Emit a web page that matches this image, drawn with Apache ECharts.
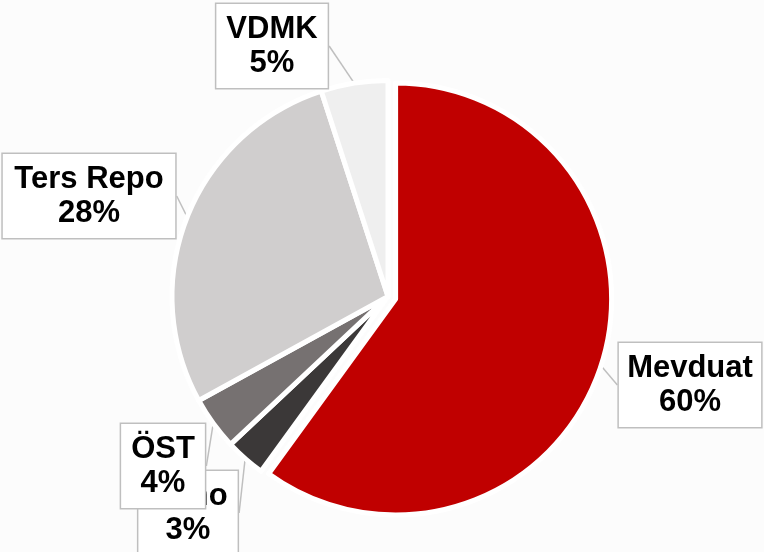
<!DOCTYPE html>
<html>
<head>
<meta charset="utf-8">
<script src="https://cdn.jsdelivr.net/npm/echarts@6/dist/echarts.min.js"></script>
<style>
  html, body { margin: 0; padding: 0; background: #fcfcfc; }
  #chart { width: 764px; height: 552px; }
</style>
</head>
<body>
<div id="chart"></div>
<script>
// slices clockwise from 12 o'clock
const names = ["Mevduat", "Bono", "ÖST", "Ters Repo", "VDMK"];
const values = [60, 3, 4, 28, 5];
const colors = ["#C00000", "#3B3838", "#767171", "#D0CECE", "#EFEFEF"];

// where each callout box sits (centre of the box)
const labelSpots = {
  "Mevduat": [690, 385],
  "Bono": [188, 513],
  "ÖST": [163, 466],
  "Ters Repo": [89, 196],
  "VDMK": [272, 46]
};

let chart = echarts.init(document.getElementById("chart"));

let cx = 388, cy = 296.5, explode = 8;

// Mevduat is pulled out along its own middle angle
let total = values.reduce((a, b) => a + b, 0);
let midAng = (values[0] / total) * Math.PI; // from 12 o'clock, clockwise
let ex = cx + explode * Math.sin(midAng);
let ey = cy - explode * Math.cos(midAng);

function makeData(showIdx) {
  return names.map((n, i) => {
    let on = showIdx(i);
    return {
      name: n,
      value: values[i],
      itemStyle: on
        ? { color: colors[i], borderColor: "#ffffff", borderWidth: 5 }
        : { color: "rgba(0,0,0,0)", borderWidth: 0 },
      label: { show: on },
      labelLine: { show: on },
    };
  });
}

let baseSeries = {
  type: "pie",
  radius: 216,
  startAngle: 90,
  clockwise: true,
  silent: true,
  emphasis: { disabled: true },
  label: {
    position: "outside",
    formatter: "{b}\n{d}%",
    fontFamily: "Liberation Sans, Arial, sans-serif",
    fontWeight: "bold",
    fontSize: 31,
    lineHeight: 34,
    color: "#000000",
    backgroundColor: "#ffffff",
    borderColor: "#BFBFBF",
    borderWidth: 1.5,
    padding: [8, 10, 8, 10],
    align: "center",
    overflow: "none",
  },
  labelLine: {
    length: 6,
    length2: 0,
    lineStyle: { color: "#BFBFBF", width: 1.5 },
  },
  labelLayout: (params) => {
    let spot = labelSpots[names[params.dataIndex]];
    return {
      x: spot[0],
      y: spot[1],
      align: "center",
      verticalAlign: "middle",
    };
  },
};

let option = {
  backgroundColor: "#fcfcfc",
  animation: false,
  series: [
    Object.assign({}, baseSeries, {
      center: [ex, ey],
      data: makeData((i) => i === 0),
    }),
    Object.assign({}, baseSeries, {
      center: [cx, cy],
      data: makeData((i) => i !== 0),
    }),
  ],
};

chart.setOption(option);
</script>
</body>
</html>
